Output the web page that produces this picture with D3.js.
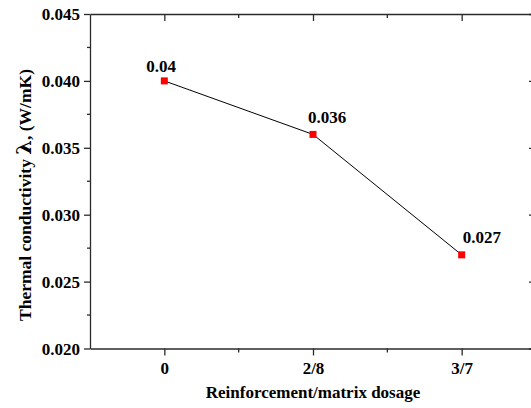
<!DOCTYPE html>
<html>
<head>
<meta charset="utf-8">
<script src="https://cdn.jsdelivr.net/npm/d3@7"></script>
<style>
  body { margin: 0; background: #fff; }
  svg text { font-family: "Liberation Serif", "Times New Roman", serif; font-weight: bold; fill: #000; }
</style>
</head>
<body>
<div id="chart"></div>
<script>
// data
let categories = ["0", "2/8", "3/7"];
let conductivity = [0.040, 0.036, 0.027];
let pointLabels = ["0.04", "0.036", "0.027"];
let yTicks = [0.020, 0.025, 0.030, 0.035, 0.040, 0.045];

let width = 531;
let height = 408;

// plot box (right side runs past the window edge like the original)
let plotLeft = 90, plotRight = 536, plotTop = 14, plotBottom = 348.5;

// label nudges, per point
let labelShift = [[-18, -9], [-5, -11], [1, -12]];

let svg = d3.select("#chart")
    .append("svg")
    .attr("width", width)
    .attr("height", height);

let x = d3.scalePoint()
    .domain(categories)
    .range([plotLeft, plotRight])
    .padding(0.5);

let y = d3.scaleLinear()
    .domain([0.020, 0.045])
    .range([plotBottom, plotTop]);

let fmt = d3.format(".3f");
let step = x.step();
let minorX = categories.slice(0, -1).map(c => x(c) + step / 2);
let minorY = yTicks.slice(0, -1).map(v => v + 0.0025);

let axisColor = "#2b2b2b";

// bottom axis
let bottomAxis = svg.append("g")
    .attr("transform", `translate(0,${plotBottom})`)
    .call(d3.axisBottom(x).tickSizeInner(7).tickSizeOuter(0).tickPadding(6));
bottomAxis.selectAll("text").style("font-size", "17px").attr("dy", "0.75em");
bottomAxis.selectAll(".minor")
    .data(minorX).enter().append("line")
    .attr("x1", d => d).attr("x2", d => d)
    .attr("y1", 0).attr("y2", 4);

// top axis
let topAxis = svg.append("g")
    .attr("transform", `translate(0,${plotTop})`)
    .call(d3.axisBottom(x).tickSizeInner(7).tickSizeOuter(0).tickFormat(""));
topAxis.selectAll(".minor")
    .data(minorX).enter().append("line")
    .attr("x1", d => d).attr("x2", d => d)
    .attr("y1", 0).attr("y2", 4);

// left axis
let leftAxis = svg.append("g")
    .attr("transform", `translate(${plotLeft},0)`)
    .call(d3.axisLeft(y).tickValues(yTicks).tickFormat(fmt).tickSizeInner(6).tickSizeOuter(0).tickPadding(4));
leftAxis.selectAll("text").style("font-size", "17px").attr("dy", "0.34em");
leftAxis.selectAll(".minor")
    .data(minorY).enter().append("line")
    .attr("x1", 0).attr("x2", -3)
    .attr("y1", d => y(d)).attr("y2", d => y(d));

// right axis
svg.append("g")
    .attr("transform", `translate(${plotRight},0)`)
    .call(d3.axisLeft(y).tickValues(yTicks).tickFormat("").tickSizeInner(7).tickSizeOuter(0));

svg.selectAll(".domain, .tick line, g line")
    .attr("stroke", axisColor)
    .attr("stroke-width", 1.3);

// the data line
let points = categories.map((c, i) => ({ cat: c, value: conductivity[i], label: pointLabels[i], shift: labelShift[i] }));

let line = d3.line()
    .x(d => x(d.cat))
    .y(d => y(d.value));

svg.append("path")
    .datum(points)
    .attr("d", line)
    .attr("fill", "none")
    .attr("stroke", "#000")
    .attr("stroke-width", 1);

svg.selectAll(".marker")
    .data(points)
    .enter()
    .append("rect")
    .attr("class", "marker")
    .attr("x", d => x(d.cat) - 3.5)
    .attr("y", d => y(d.value) - 3.5)
    .attr("width", 7)
    .attr("height", 7)
    .attr("fill", "#ff0000");

svg.selectAll(".pointLabel")
    .data(points)
    .enter()
    .append("text")
    .attr("class", "pointLabel")
    .attr("x", d => x(d.cat) + d.shift[0])
    .attr("y", d => y(d.value) + d.shift[1])
    .style("font-size", "17px")
    .text(d => d.label);

// axis titles
svg.append("text")
    .attr("x", (plotLeft + plotRight) / 2)
    .attr("y", 398)
    .attr("text-anchor", "middle")
    .style("font-size", "17px")
    .text("Reinforcement/matrix dosage");

let yTitle = svg.append("text")
    .attr("transform", "translate(31,195) rotate(-90)")
    .attr("text-anchor", "middle")
    .style("font-size", "17.5px");
yTitle.append("tspan").text("Thermal conductivity ");
yTitle.append("tspan")
    .style("font-size", "21px")
    .style("font-family", "'DejaVu Serif', serif")
    .text("λ");
yTitle.append("tspan").text(", (W/mK)");
</script>
</body>
</html>
